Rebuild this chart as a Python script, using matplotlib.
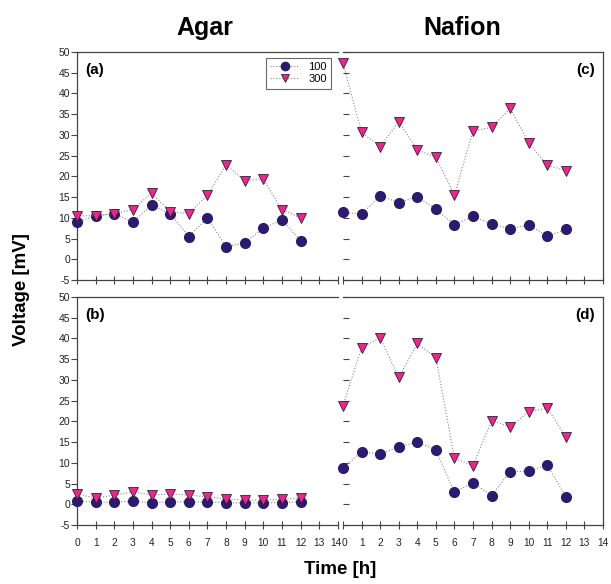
import matplotlib
matplotlib.use("Agg")
import matplotlib.pyplot as plt
import matplotlib.transforms as mtransforms

plt.rcParams['font.family'] = ['Liberation Sans', 'DejaVu Sans']
plt.rcParams['axes.unicode_minus'] = False

hours = list(range(13))

# (a) Agar, upper
agar_a_100 = [9, 10.5, 11, 9, 13, 11, 5.5, 10, 3, 4, 7.5, 9.5, 4.5]
agar_a_300 = [10.5, 10.5, 11, 12, 16, 11.5, 11, 15.5, 22.8, 19, 19.3, 12, 10]
# (b) Agar, lower
agar_b_100 = [0.8, 0.5, 0.5, 0.7, 0.4, 0.6, 0.6, 0.5, 0.4, 0.3, 0.4, 0.4, 0.6]
agar_b_300 = [2.5, 1.5, 2.2, 3.0, 2.2, 2.5, 2.2, 1.8, 1.3, 1.0, 1.0, 1.2, 1.6]
# (c) Nafion, upper
nafion_c_100 = [11.3, 10.9, 15.3, 13.7, 15.1, 12.1, 8.3, 10.4, 8.5, 7.4, 8.3, 5.6, 7.2]
nafion_c_300 = [47.4, 30.6, 27.2, 33.2, 26.4, 24.6, 15.5, 31.0, 31.8, 36.4, 28.1, 22.7, 21.4]
# (d) Nafion, lower
nafion_d_100 = [8.7, 12.7, 12.1, 13.9, 15.0, 13.1, 2.9, 5.2, 2.1, 7.9, 8.0, 9.5, 1.8]
nafion_d_300 = [23.8, 37.8, 40.2, 30.6, 38.8, 35.4, 11.1, 9.3, 20.2, 18.7, 22.3, 23.2, 16.3]

labels = ['100', '300']
c100 = '#2b1b6e'
c300 = '#e8288a'

fig = plt.figure(figsize=(6.11, 5.84), dpi=100)

panels = [
    ([0.126, 0.5205, 0.427, 0.3904], agar_a_100, agar_a_300, '(a)', 'left'),
    ([0.5614, 0.5205, 0.4255, 0.3904], nafion_c_100, nafion_c_300, '(c)', 'right'),
    ([0.126, 0.101, 0.427, 0.3904], agar_b_100, agar_b_300, '(b)', 'left'),
    ([0.5614, 0.101, 0.4255, 0.3904], nafion_d_100, nafion_d_300, '(d)', 'right'),
]

axes = []
for rect, y100, y300, tag, side in panels:
    ax = fig.add_axes(rect)
    axes.append(ax)
    ax.plot(hours, y100, ls=':', lw=0.8, color='#888888', marker='o', ms=7,
            mfc=c100, mec=c100, label=labels[0], clip_on=False, zorder=3)
    ax.plot(hours, y300, ls=':', lw=0.8, color='#888888', marker='v', ms=7,
            mfc=c300, mec='#3a1a3a', mew=0.6, label=labels[1], clip_on=False, zorder=3)
    ax.set_xlim(0, 14)
    ax.set_ylim(-5, 50)
    ax.set_xticks(range(15))
    ax.set_yticks(range(-5, 51, 5))
    for s in ax.spines.values():
        s.set_color('#444444')
        s.set_linewidth(0.9)
    ax.tick_params(axis='x', direction='inout', length=6, width=0.8,
                   colors='#444444', labelsize=7.3, labelcolor='#222222', pad=6)
    if side == 'left':
        ax.spines['right'].set_visible(False)
        ax.tick_params(axis='y', direction='out', length=4, width=0.8,
                       colors='#444444', labelsize=7.5, labelcolor='#222222', pad=1)
        ax.text(0.03, 0.95, tag, transform=ax.transAxes, fontsize=11,
                fontweight='bold', va='top', ha='left')
        # nudge the last x label so it does not run into the next panel's "0"
        lab = ax.get_xticklabels()[-1]
        lab.set_transform(lab.get_transform() +
                          mtransforms.ScaledTranslation(-1.5 / 100, 0, fig.dpi_scale_trans))
    else:
        ax.spines['left'].set_visible(False)
        ax.tick_params(axis='y', direction='in', length=4, width=0.8,
                       colors='#444444', labelleft=False)
        ax.text(0.97, 0.95, tag, transform=ax.transAxes, fontsize=11,
                fontweight='bold', va='top', ha='right')
        lab = ax.get_xticklabels()[0]
        lab.set_transform(lab.get_transform() +
                          mtransforms.ScaledTranslation(1.5 / 100, 0, fig.dpi_scale_trans))
    if tag in ('(a)', '(c)'):
        ax.tick_params(axis='x', labelbottom=False)

leg = axes[0].legend(loc='upper right', bbox_to_anchor=(0.995, 1.0), fontsize=8,
                     frameon=True, fancybox=False, edgecolor='#444444',
                     handlelength=2.6, borderpad=0.4, labelspacing=0.2,
                     handletextpad=0.8, markerscale=0.85)
leg.get_frame().set_linewidth(0.8)

fig.text(0.335, 0.952, 'Agar', fontsize=18, fontweight='bold', ha='center', va='center')
fig.text(0.757, 0.952, 'Nafion', fontsize=18, fontweight='bold', ha='center', va='center')
fig.text(0.036, 0.505, 'Voltage [mV]', fontsize=13.5, fontweight='bold', rotation=90,
         ha='center', va='center')
fig.text(0.556, 0.025, 'Time [h]', fontsize=13.5, fontweight='bold', ha='center', va='center')

fig.savefig('out.png', dpi=100)
